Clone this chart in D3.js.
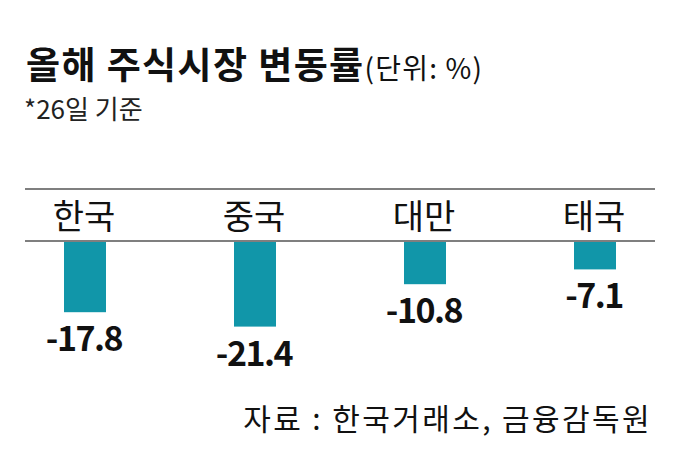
<!DOCTYPE html>
<html><head><meta charset="utf-8">
<script src="https://cdn.jsdelivr.net/npm/d3@7"></script>
<style>
html,body{margin:0;padding:0;background:#fff;}
svg{display:block;font-family:"Noto Sans CJK KR","Noto Sans",sans-serif;}
</style></head>
<body>
<svg id="chart" width="680" height="474"></svg>
<script>
const categories = ["한국", "중국", "대만", "태국"];
const values = [-17.8, -21.4, -10.8, -7.1];
const valueLabels = ["-17.8", "-21.4", "-10.8", "-7.1"];
const titleText = "올해 주식시장 변동률";
const unitText = "(단위: %)";
const subtitleText = "*26일 기준";
const sourceText = "자료 : 한국거래소, 금융감독원";

const svg = d3.select("#chart");
const W = 680;

const x = d3.scalePoint().domain(categories).range([0, W]).padding(0.5);
const y = d3.scaleLinear().domain([0, -25]).range([241, 341]);
const barW = 42;

// title
const t = svg.append("text").attr("x", 26).attr("y", 79).attr("fill", "#111");
t.append("tspan").attr("font-size", 37).attr("font-weight", 700).attr("letter-spacing", 1.4).text(titleText);
t.append("tspan").attr("font-size", 28).attr("font-weight", 400).attr("letter-spacing", 1.2).attr("dx", 0).text(unitText);

svg.append("text").attr("x", 24).attr("y", 119).attr("font-size", 26).attr("fill", "#222").text(subtitleText);

// lines
svg.append("line").attr("x1", 25).attr("x2", 655).attr("y1", 189).attr("y2", 189)
  .attr("stroke", "#555").attr("stroke-width", 1.5);
svg.append("line").attr("x1", 25).attr("x2", 655).attr("y1", y(0)).attr("y2", y(0))
  .attr("stroke", "#555").attr("stroke-width", 1.5);

// category labels
svg.selectAll("text.cat").data(categories).join("text").attr("class", "cat")
  .attr("x", d => x(d) - 1).attr("y", 229).attr("text-anchor", "middle")
  .attr("font-size", 34).attr("fill", "#111").text(d => d);

// bars
svg.selectAll("rect.bar").data(values).join("rect").attr("class", "bar")
  .attr("x", (d, i) => x(categories[i]) - barW / 2)
  .attr("y", y(0) + 1)
  .attr("width", barW)
  .attr("height", d => y(d) - y(0) - 1)
  .attr("fill", "#1196a9");

// value labels
svg.selectAll("text.val").data(values).join("text").attr("class", "val")
  .attr("x", (d, i) => x(categories[i]) - 1)
  .attr("y", d => y(d) + 39)
  .attr("text-anchor", "middle").attr("font-size", 34).attr("font-weight", 700)
  .attr("letter-spacing", -1.5).attr("fill", "#111")
  .text((d, i) => valueLabels[i]);

// source
svg.append("text").attr("x", 652).attr("y", 430).attr("text-anchor", "end")
  .attr("font-size", 30).attr("letter-spacing", 2.4).attr("fill", "#111").text(sourceText);
</script>
</body></html>
